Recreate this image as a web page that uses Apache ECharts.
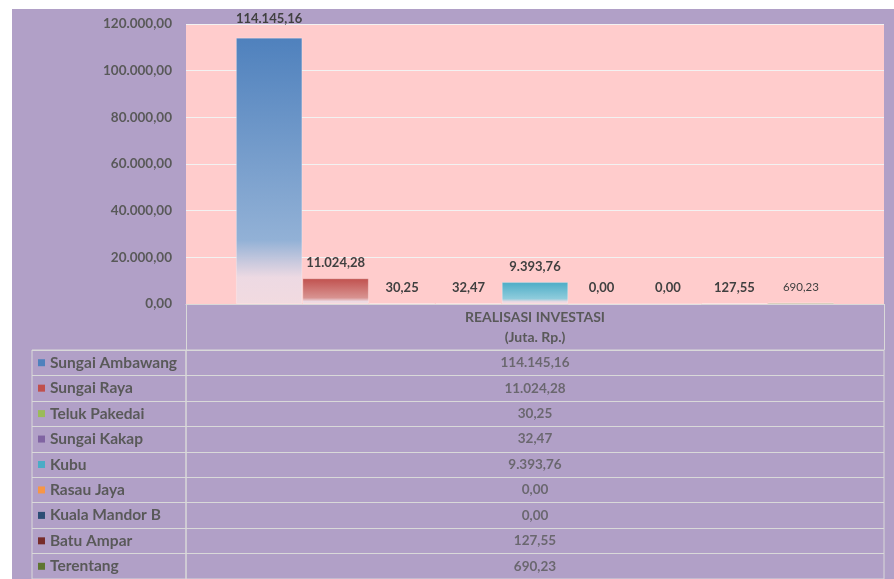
<!DOCTYPE html>
<html>
<head>
<meta charset="utf-8">
<script src="https://cdn.jsdelivr.net/npm/echarts@6/dist/echarts.min.js"></script>
<style>
  html, body { margin: 0; padding: 0; background: #ffffff; }
  #chart { position: absolute; left: 12px; top: 9px; width: 882px; height: 570px; }
</style>
</head>
<body>
<div id="chart"></div>
<script>
const category = 'REALISASI INVESTASI\n(Juta. Rp.)';
const districts = ['Sungai Ambawang', 'Sungai Raya', 'Teluk Pakedai', 'Sungai Kakap', 'Kubu',
  'Rasau Jaya', 'Kuala Mandor B', 'Batu Ampar', 'Terentang'];
const investments = [114145.16, 11024.28, 30.25, 32.47, 9393.76, 0, 0, 127.55, 690.23];
const colors = ['#4f81bd', '#c0504d', '#9bbb59', '#8064a2', '#4bacc6',
  '#f79646', '#2c4d75', '#772c2a', '#5f7530'];
const yTicks = [0, 20000, 40000, 60000, 80000, 100000, 120000];

const font = 'Lato, "Open Sans", sans-serif';
const textGrey = '#595959';
const lineGrey = '#d9d9d9';

// Indonesian number format: 114.145,16
function fmt(v) {
  const [int, dec] = Number(v).toFixed(2).split('.');
  return int.replace(/\B(?=(\d{3})+(?!\d))/g, '.') + ',' + dec;
}

function lighten(hex, t) {
  const n = parseInt(hex.slice(1), 16);
  const r = (n >> 16) & 255, g = (n >> 8) & 255, b = n & 255;
  const mix = (c) => Math.round(c + (255 - c) * t);
  return `rgb(${mix(r)}, ${mix(g)}, ${mix(b)})`;
}

function barFill(c) {
  return new echarts.graphic.LinearGradient(0, 0, 0, 1, [
    { offset: 0, color: c },
    { offset: 0.76, color: lighten(c, 0.38) },
    { offset: 0.9, color: 'rgba(236, 218, 228, 0.95)' },
    { offset: 1, color: 'rgba(240, 220, 226, 0.9)' },
  ]);
}

const chart = echarts.init(document.getElementById('chart'));

const barSeries = districts.map((name, i) => ({
  name,
  type: 'bar',
  xAxisIndex: 0,
  yAxisIndex: 0,
  data: [investments[i]],
  barGap: '0%',
  barCategoryGap: '14.3%',
  barMinHeight: investments[i] > 0 ? 1 : 0,
  itemStyle: {
    color: barFill(colors[i]),
    borderColor: 'rgba(255,255,255,0.25)',
    borderWidth: 1,
  },
  label: {
    show: true,
    position: 'top',
    distance: i === 0 ? 12 : 9,
    formatter: () => fmt(investments[i]),
    fontFamily: font,
    fontWeight: i === districts.length - 1 ? 'normal' : 'bold',
    fontSize: i === districts.length - 1 ? 11.5 : 13,
    color: '#404040',
  },
}));

const option = {
  backgroundColor: '#b1a0c7',
  animation: false,
  grid: [
    { left: 174, right: 10, top: 15, bottom: 275, show: true, backgroundColor: '#ffcccc', borderWidth: 0 },
    { left: 20, width: 154, top: 341, bottom: 0, show: true, borderColor: lineGrey, borderWidth: 1 },
    { left: 174, right: 10, top: 341, bottom: 0, show: true, borderColor: lineGrey, borderWidth: 1 },
  ],
  xAxis: [
    {
      gridIndex: 0,
      type: 'category',
      data: [category],
      axisLine: { lineStyle: { color: lineGrey } },
      axisTick: { show: true, length: 46, interval: 0, lineStyle: { color: lineGrey } },
      axisLabel: {
        margin: 3,
        fontFamily: font,
        fontWeight: 'bold',
        fontSize: 14,
        lineHeight: 20,
        color: textGrey,
      },
    },
    { gridIndex: 1, type: 'value', min: 0, max: 1, show: false },
    { gridIndex: 2, type: 'value', min: 0, max: 1, show: false },
  ],
  yAxis: [
    {
      gridIndex: 0,
      type: 'value',
      min: 0,
      max: yTicks[yTicks.length - 1],
      interval: yTicks[1] - yTicks[0],
      axisLine: { show: false },
      axisTick: { show: false },
      splitLine: { lineStyle: { color: '#f2f2f2', width: 1 } },
      axisLabel: {
        margin: 14,
        fontFamily: font,
        fontWeight: 'bold',
        fontSize: 13.5,
        color: textGrey,
        formatter: (v) => fmt(v),
      },
    },
    {
      gridIndex: 1,
      type: 'category',
      inverse: true,
      data: districts,
      axisLine: { show: false },
      axisTick: { show: false },
      splitLine: { show: true, lineStyle: { color: lineGrey } },
      axisLabel: {
        inside: true,
        margin: 6,
        formatter: (v, i) => `{m${i}|}{t|${v}}`,
        rich: Object.assign(
          { t: { fontFamily: font, fontWeight: 'bold', fontSize: 15.5, color: textGrey, padding: [0, 0, 0, 5] } },
          Object.fromEntries(colors.map((c, i) => [`m${i}`, { width: 7, height: 7, backgroundColor: c }]))
        ),
      },
    },
    {
      gridIndex: 2,
      type: 'category',
      inverse: true,
      data: districts,
      axisLine: { show: false },
      axisTick: { show: false },
      axisLabel: { show: false },
      splitLine: { show: true, lineStyle: { color: lineGrey } },
    },
  ],
  series: [
    ...barSeries,
    {
      type: 'scatter',
      xAxisIndex: 2,
      yAxisIndex: 2,
      symbolSize: 0,
      data: investments.map((v, i) => [0.5, i]),
      label: {
        show: true,
        position: 'inside',
        formatter: (p) => fmt(investments[p.dataIndex]),
        fontFamily: font,
        fontWeight: 'bold',
        fontSize: 13.5,
        color: textGrey,
      },
    },
  ],
};

chart.setOption(option);
window.addEventListener('resize', () => chart.resize());
</script>
</body>
</html>
